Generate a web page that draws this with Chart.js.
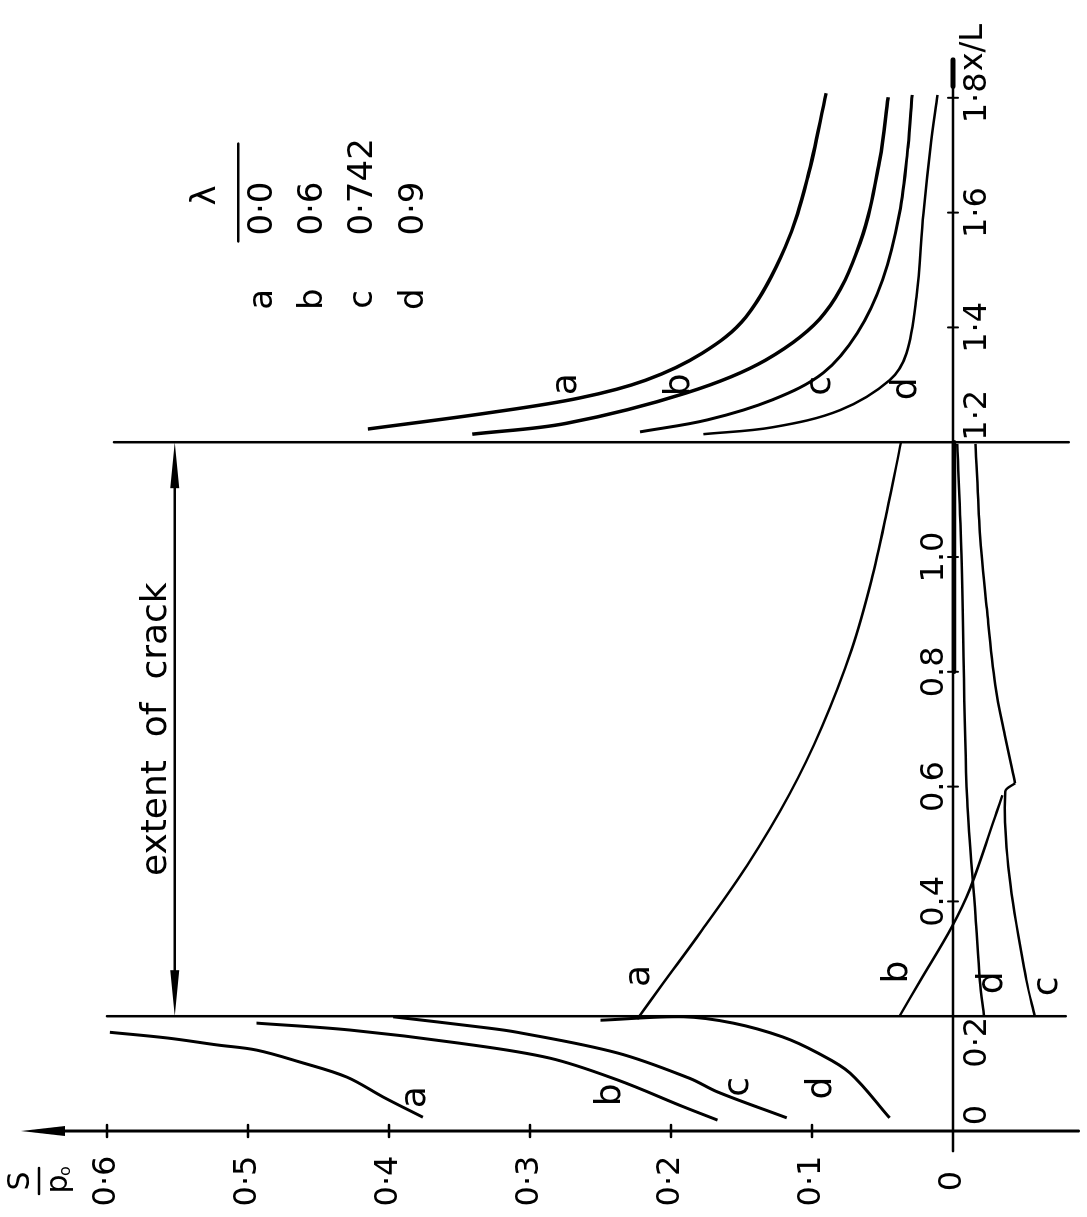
<!DOCTYPE html>
<html>
<head>
<meta charset="utf-8">
<script src="https://cdn.jsdelivr.net/npm/chart.js@4.4.0/dist/chart.umd.min.js"></script>
<style>
    html, body { margin: 0; padding: 0; background: #fff; overflow: hidden; }
    /* the figure is drawn upright and turned a quarter turn, like the printed page */
    #wrap { position: absolute; left: 0; top: 0; width: 1217px; height: 1087px;
            transform-origin: 0 0; transform: translate(0, 1217px) rotate(-90deg); }
</style>
</head>
<body>
<div id="wrap"><canvas id="grafica" width="1217" height="1087"></canvas></div>
<script>
// Ticks
const xTicks = [0, 0.2, 0.4, 0.6, 0.8, 1.0, 1.2, 1.4, 1.6, 1.8];
const xTickLabels = ["0", "0·2", "0.4", "0.6", "0.8", "1.0", "1·2", "1·4", "1·6", "1·8"];
const sTicks = [0, 0.1, 0.2, 0.3, 0.4, 0.5, 0.6];
const sTickLabels = ["0", "0·1", "0·2", "0·3", "0·4", "0·5", "0·6"];

// Crack from x/L = 0.2 to 1.2
const crackStart = 0.2;
const crackEnd = 1.2;

// Legend
const legendKeys = ["a", "b", "c", "d"];
const legendValues = ["0·0", "0·6", "0·742", "0·9"];

// Curve a (lambda 0.0)
const aLeftX = [0.024, 0.059, 0.094, 0.120, 0.141, 0.150, 0.162, 0.172];
const aLeftS = [0.376, 0.404, 0.430, 0.463, 0.494, 0.522, 0.557, 0.598];
const aMidX = [0.195, 0.256, 0.350, 0.463, 0.587, 0.704, 0.838, 0.958, 1.078, 1.199];
const aMidS = [0.224, 0.206, 0.178, 0.146, 0.116, 0.093, 0.072, 0.058, 0.047, 0.037];
const aTopX = [1.223, 1.251, 1.277, 1.308, 1.355, 1.418, 1.540, 1.662, 1.808];
const aTopS = [0.415, 0.330, 0.265, 0.218, 0.178, 0.147, 0.119, 0.103, 0.090];

// Curve b (lambda 0.6)
const bLeftX = [0.019, 0.042, 0.089, 0.127, 0.153, 0.176, 0.188];
const bLeftS = [0.167, 0.191, 0.238, 0.286, 0.350, 0.428, 0.494];
const bMidX = [0.200, 0.263, 0.355, 0.422, 0.556, 0.585];
const bMidS = [0.038, 0.023, 0.001, -0.012, -0.031, -0.035];
const bTopX = [1.214, 1.233, 1.286, 1.343, 1.425, 1.547, 1.692, 1.801];
const bTopS = [0.341, 0.274, 0.189, 0.133, 0.091, 0.066, 0.052, 0.046];

// Curve c (lambda 0.742)
const cLeftX = [0.023, 0.068, 0.092, 0.136, 0.172, 0.181, 0.199];
const cLeftS = [0.118, 0.167, 0.187, 0.238, 0.309, 0.335, 0.397];
const cMidLowX = [0.200, 0.263, 0.443, 0.591, 0.606];
const cMidLowS = [-0.058, -0.052, -0.040, -0.037, -0.044];
const cMidHighX = [0.606, 0.686, 0.777, 0.909, 1.044, 1.197];
const cMidHighS = [-0.044, -0.037, -0.030, -0.024, -0.019, -0.016];
const cTopX = [1.218, 1.239, 1.274, 1.321, 1.390, 1.483, 1.599, 1.714, 1.805];
const cTopS = [0.222, 0.174, 0.128, 0.092, 0.068, 0.050, 0.038, 0.032, 0.029];

// Curve d (lambda 0.9)
const dLeftX = [0.023, 0.101, 0.136, 0.164, 0.188, 0.199, 0.193];
const dLeftS = [0.045, 0.073, 0.096, 0.121, 0.156, 0.191, 0.250];
const dMidX = [0.200, 0.263, 0.375, 0.577, 1.003, 1.197];
const dMidS = [-0.022, -0.019, -0.016, -0.010, -0.006, -0.003];
const dTopX = [1.214, 1.226, 1.256, 1.308, 1.355, 1.453, 1.599, 1.714, 1.805];
const dTopS = [0.177, 0.128, 0.080, 0.045, 0.033, 0.026, 0.021, 0.016, 0.011];

// Curve letters written beside the lines (x/L, S)
const curveLetters = ["a", "b", "c", "d", "a", "b", "d", "c", "a", "b", "c", "d"];
const curveLetterX = [0.059, 0.063, 0.077, 0.075, 0.27, 0.277, 0.258, 0.252, 1.301, 1.300, 1.298, 1.293];
const curveLetterS = [0.381, 0.243, 0.152, 0.093, 0.222, 0.039, -0.028, -0.067, 0.274, 0.194, 0.094, 0.033];

const FONT = "'DejaVu Sans', 'Liberation Sans', sans-serif";

function pares(xs, ss) {
    return xs.map((x, i) => ({ x: x, y: ss[i] }));
}

function curva(xs, ss, ancho) {
    return {
        data: pares(xs, ss),
        showLine: true,
        borderColor: "#000",
        borderWidth: ancho || 3,
        pointRadius: 0,
        tension: 0.35,
        fill: false
    };
}

// Axes, crack lines, labels and legend, all placed through the chart scales
const dibujoPlugin = {
    id: "dibujo",
    afterDatasetsDraw(chart) {
        const ctx = chart.ctx;
        const px = v => chart.scales.x.getPixelForValue(v);
        const py = v => chart.scales.y.getPixelForValue(v);

        const linea = (x1, y1, x2, y2, w) => {
            ctx.lineWidth = w;
            ctx.beginPath();
            ctx.moveTo(x1, y1);
            ctx.lineTo(x2, y2);
            ctx.stroke();
        };
        // long thin arrow head; (tx,ty) tip, (dx,dy) direction
        const punta = (tx, ty, dx, dy, largo, medio) => {
            ctx.beginPath();
            ctx.moveTo(tx, ty);
            ctx.lineTo(tx - dx * largo - dy * medio, ty - dy * largo + dx * medio);
            ctx.lineTo(tx - dx * largo + dy * medio, ty - dy * largo - dx * medio);
            ctx.closePath();
            ctx.fill();
        };

        ctx.save();
        ctx.strokeStyle = "#000";
        ctx.fillStyle = "#000";
        ctx.lineCap = "round";

        // S axis with arrow
        const x0 = px(0);
        linea(x0, py(0.640), x0, py(-0.089), 3);
        punta(x0, py(0.661), 0, -1, 44, 5);
        sTicks.forEach(v => { if (v > 0) linea(x0 - 6, py(v), x0 + 6, py(v), 2.5); });

        // x/L axis
        const y0 = py(0);
        linea(px(-0.035), y0, px(1.866), y0, 2.5);
        linea(px(1.82), y0, px(1.866), y0, 5);
        linea(px(0.8), y0 + 1, px(1.2), y0 + 1, 4.5);
        xTicks.forEach(v => {
            if (v > 0.3 && Math.abs(v - crackEnd) > 0.01) linea(px(v), y0 - 5, px(v), y0 + 5, 2);
        });

        // crack ends
        linea(px(crackStart), py(0.600), px(crackStart), py(-0.080), 2.5);
        linea(px(crackEnd), py(0.595), px(crackEnd), py(-0.082), 2.5);

        // extent of crack
        const ya = py(0.552);
        linea(px(crackStart) + 30, ya, px(crackEnd) - 30, ya, 2.5);
        punta(px(crackStart), ya, -1, 0, 46, 4.5);
        punta(px(crackEnd), ya, 1, 0, 46, 4.5);
        ctx.font = "36px " + FONT;
        ctx.textAlign = "center";
        ctx.textBaseline = "alphabetic";
        ctx.fillText("extent  of  crack", px((crackStart + crackEnd) / 2), py(0.558));

        // S tick labels
        const xs = x0 - 50;
        ctx.font = "32px " + FONT;
        ctx.textAlign = "center";
        ctx.textBaseline = "middle";
        sTicks.forEach((v, i) => ctx.fillText(sTickLabels[i], xs, py(v)));

        // S / p0
        ctx.font = "30px " + FONT;
        ctx.fillText("S", xs, py(0.6) - 86);
        linea(xs - 13, py(0.6) - 68, xs + 13, py(0.6) - 68, 2.5);
        ctx.fillText("p", xs - 3, py(0.6) - 48);
        ctx.font = "16px " + FONT;
        ctx.fillText("o", xs + 10, py(0.6) - 41);

        // x/L tick labels
        ctx.font = "32px " + FONT;
        ctx.textAlign = "center";
        xTicks.forEach((v, i) => {
            let x = px(v);
            if (v > 0.3 && v < 1.1) {
                ctx.textBaseline = "bottom";
                ctx.fillText(xTickLabels[i], x, y0 - 2);
                return;
            }
            if (v === 0) x += 16;
            if (v === crackStart) x -= 26;
            if (v === crackEnd) x += 27;
            ctx.textBaseline = "top";
            ctx.fillText(xTickLabels[i], x, y0 + 9);
            if (i === xTicks.length - 1) {
                const w = ctx.measureText(xTickLabels[i]).width;
                ctx.textAlign = "left";
                ctx.fillText("x/L", x + w / 2 + 1, y0 + 5);
                ctx.textAlign = "center";
            }
        });

        // curve letters
        ctx.font = "36px " + FONT;
        ctx.textBaseline = "middle";
        curveLetters.forEach((t, i) => ctx.fillText(t, px(curveLetterX[i]), py(curveLetterS[i])));

        // legend
        const rowS = [0.489, 0.454, 0.418, 0.382];
        ctx.font = "34px " + FONT;
        ctx.fillText("λ", px(1.63), py(0.530));
        linea(px(1.55), py(0.507), px(1.72), py(0.507), 2.5);
        legendKeys.forEach((k, i) => {
            ctx.textAlign = "center";
            ctx.fillText(k, px(1.449), py(rowS[i]));
            ctx.textAlign = "left";
            ctx.fillText(legendValues[i], px(1.56), py(rowS[i]));
        });

        ctx.restore();
    }
};

new Chart(document.getElementById("grafica"), {
    type: "scatter",
    data: {
        datasets: [
            curva(aLeftX, aLeftS), curva(aMidX, aMidS, 2.5), curva(aTopX, aTopS, 3.5),
            curva(bLeftX, bLeftS), curva(bMidX, bMidS, 2.5), curva(bTopX, bTopS, 3.5),
            curva(cLeftX, cLeftS), curva(cMidLowX, cMidLowS, 2.5), curva(cMidHighX, cMidHighS, 2.5),
            curva(cTopX, cTopS),
            curva(dLeftX, dLeftS), curva(dMidX, dMidS, 2.5), curva(dTopX, dTopS, 2.5)
        ]
    },
    options: {
        responsive: false,
        animation: false,
        layout: { padding: 0 },
        plugins: { legend: { display: false }, tooltip: { enabled: false } },
        scales: {
            x: { type: "linear", min: -0.1498, max: 1.9704, display: false },
            y: { type: "linear", min: -0.0950, max: 0.6759, display: false }
        }
    },
    plugins: [dibujoPlugin]
});
</script>
</body>
</html>
